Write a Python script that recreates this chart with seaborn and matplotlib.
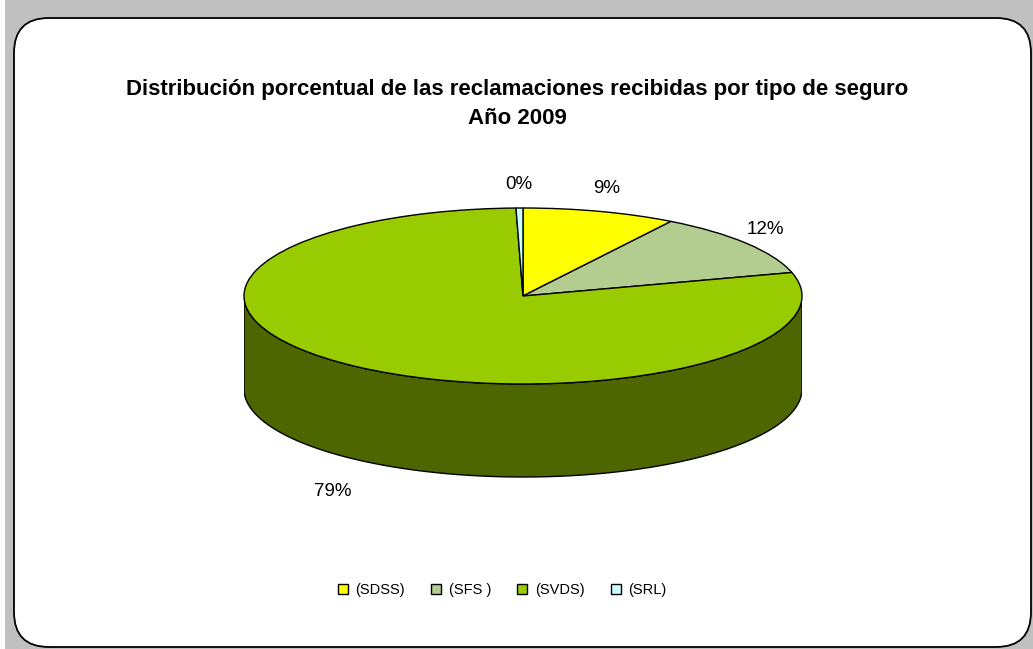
import numpy as np
import matplotlib
matplotlib.use("Agg")
import matplotlib.pyplot as plt
import seaborn as sns
from matplotlib.patches import FancyBboxPatch, Patch, Rectangle

# Data
categories = ["(SDSS)", "(SFS )", "(SVDS)", "(SRL)"]
values = [8.9, 11.8, 78.9, 0.4]
top_colors = ["#FFFF00", "#B3CC8F", "#99CC00", "#CCFFFF"]
side_colors = ["#999900", "#5E6B4A", "#4D6600", "#6B8080"]
title = "Distribución porcentual de las reclamaciones recibidas por tipo de seguro\nAño 2009"

sns.set_style("white")
plt.rcParams["font.family"] = ["Liberation Sans", "DejaVu Sans"]
plt.rcParams["text.color"] = "black"

W, H = 1033, 649
fig = plt.figure(figsize=(W / 100, H / 100), dpi=100)
fig.patch.set_facecolor("#C0C0C0")

# background frame
bg = fig.add_axes([0, 0, 1, 1])
bg.set_xlim(0, W)
bg.set_ylim(H, 0)
bg.axis("off")
bg.add_patch(Rectangle((0, 0), 5, H, facecolor="white", edgecolor="none"))
bg.add_patch(FancyBboxPatch((14 + 35, 18 + 35), 1031 - 14 - 70, 647 - 18 - 70,
                            boxstyle="round,pad=35", facecolor="white",
                            edgecolor="black", linewidth=1.3))
bg.text(517, 104, title, ha="center", va="center", fontsize=16,
        fontweight="bold", linespacing=1.55)

# pie geometry (pixels)
cx, cy, a, b, depth = 523, 296, 279, 88, 93
d = depth / b
top_px = cy - b - 20
bot_px = cy + b + depth + 40
ax = fig.add_axes([(cx - a) / W, (H - bot_px) / H, 2 * a / W, (bot_px - top_px) / H])
ax.axis("off")

wedges, _ = ax.pie(values, colors=top_colors, startangle=90, counterclock=False,
                   wedgeprops=dict(edgecolor="black", linewidth=1), radius=1)

# side walls for the front half
for w, sc in zip(wedges, side_colors):
    t1, t2 = np.deg2rad(w.theta1), np.deg2rad(w.theta2)
    for lo, hi in [(np.pi, 2 * np.pi), (-np.pi, 0)]:
        s, e = max(t1, lo), min(t2, hi)
        if e <= s:
            continue
        t = np.linspace(s, e, 200)
        xs = np.concatenate([np.cos(t), np.cos(t[::-1])])
        ys = np.concatenate([np.sin(t), np.sin(t[::-1]) - d])
        ax.fill(xs, ys, facecolor=sc, edgecolor="black", linewidth=1, zorder=0)

# percentage labels, offset a fixed number of pixels outside the rim
for w, v in zip(wedges, values):
    mid = np.deg2rad((w.theta1 + w.theta2) / 2)
    off = 24 if np.sin(mid) >= 0 else 40
    x = np.cos(mid) + off * np.cos(mid) / a
    y = np.sin(mid) + off * np.sin(mid) / b
    if np.sin(mid) < 0:
        y -= d
    ax.text(x, y, f"{round(v):d}%", ha="center", va="center", fontsize=13.5)

ax.set_aspect("auto")
ax.set_xlim(-1, 1)
ax.set_ylim(-(bot_px - cy) / b, (cy - top_px) / b)

handles = [Patch(facecolor=c, edgecolor="black", linewidth=1) for c in top_colors]
fig.legend(handles, categories, loc="center", bbox_to_anchor=(502 / W, 1 - 590 / H),
           ncol=4, frameon=False, fontsize=10.5, handlelength=0.7, handleheight=0.7,
           handletextpad=0.5, columnspacing=1.8)

fig.savefig("out.png", dpi=100, facecolor=fig.get_facecolor())
